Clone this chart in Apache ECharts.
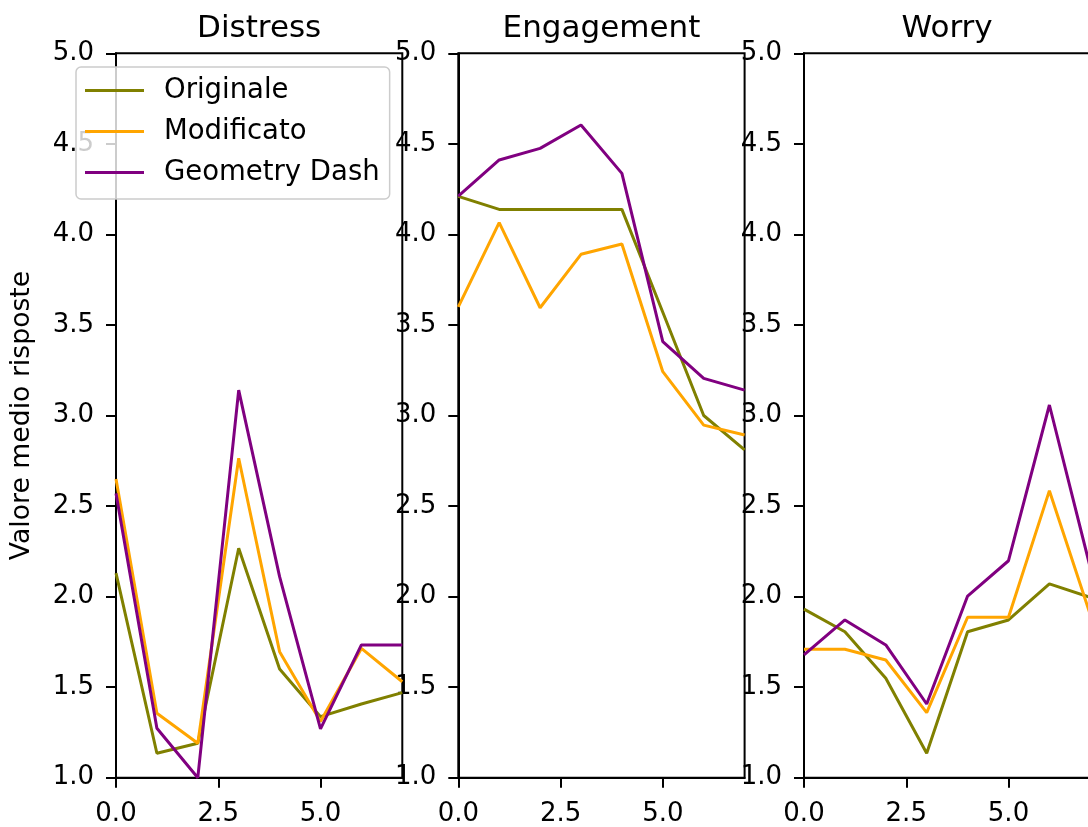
<!DOCTYPE html>
<html>
<head>
<meta charset="utf-8">
<script src="https://cdn.jsdelivr.net/npm/echarts@6/dist/echarts.min.js"></script>
<style>
html,body{margin:0;padding:0;background:#fff;}
#chart{width:1088px;height:827px;}
</style>
</head>
<body>
<div id="chart"></div>
<script>
// ---- data ----
const xValues = [0, 1, 2, 3, 4, 5, 6, 7];
const panelTitles = ['Distress', 'Engagement', 'Worry'];
const seriesNames = ['Originale', 'Modificato', 'Geometry Dash'];
const seriesColors = ['#808000', '#FFA500', '#800080'];
const xTickValues = [0, 2.5, 5];

const distressOriginale   = [2.13, 1.135, 1.19, 2.267, 1.60, 1.337, 1.407, 1.47];
const distressModificato  = [2.65, 1.356, 1.19, 2.764, 1.696, 1.31, 1.714, 1.53];
const distressGeometry    = [2.57, 1.273, 1.0, 3.14, 2.11, 1.27, 1.733, 1.733];

const engagementOriginale  = [4.21, 4.138, 4.138, 4.138, 4.138, 3.57, 3.0, 2.81];
const engagementModificato = [3.60, 4.065, 3.595, 3.89, 3.947, 3.242, 2.947, 2.892];
const engagementGeometry   = [4.212, 4.411, 4.475, 4.604, 4.337, 3.408, 3.205, 3.14];

const worryOriginale  = [1.931, 1.806, 1.549, 1.135, 1.806, 1.871, 2.07, 1.996];
const worryModificato = [1.709, 1.709, 1.65, 1.359, 1.886, 1.886, 2.585, 1.90];
const worryGeometry   = [1.678, 1.871, 1.733, 1.407, 2.003, 2.198, 3.058, 2.16];

const panels = [
  [distressOriginale, distressModificato, distressGeometry],
  [engagementOriginale, engagementModificato, engagementGeometry],
  [worryOriginale, worryModificato, worryGeometry]
];

// ---- layout ----
const FONT = 'DejaVu Sans';
const gridLefts = [116, 458.3, 804];
const gridW = 286.3, gridTop = 53.3, gridH = 724.4;

const chart = echarts.init(document.getElementById('chart'), null, {renderer: 'canvas'});

const grids = [], xAxes = [], yAxes = [], series = [], titles = [];
gridLefts.forEach((l, i) => {
  grids.push({left: l, top: gridTop, width: gridW, height: gridH, show: true,
    borderColor: '#000', borderWidth: 2, backgroundColor: 'transparent',
    containLabel: false, outerBoundsMode: 'none'});
  xAxes.push({
    type: 'value', gridIndex: i, min: 0, max: 7, interval: 2.5,
    axisLine: {show: true, onZero: false, lineStyle: {color: '#000', width: 2}},
    axisTick: {show: true, length: 10, lineStyle: {color: '#000', width: 2}, customValues: xTickValues},
    axisLabel: {show: true, margin: 24, color: '#000', fontFamily: FONT, fontSize: 26,
      customValues: xTickValues, formatter: v => v.toFixed(1)},
    splitLine: {show: false}
  });
  yAxes.push({
    type: 'value', gridIndex: i, min: 1, max: 5, interval: 0.5,
    name: i === 0 ? 'Valore medio risposte' : '',
    nameLocation: 'middle', nameGap: 80, nameRotate: 90,
    nameTextStyle: {color: '#000', fontFamily: FONT, fontSize: 26.7},
    axisLine: {show: true, onZero: false, lineStyle: {color: '#000', width: 2}},
    axisTick: {show: true, length: 10, lineStyle: {color: '#000', width: 2}},
    axisLabel: {show: true, margin: 22, color: '#000', fontFamily: FONT, fontSize: 26,
      formatter: v => v.toFixed(1)},
    splitLine: {show: false}
  });
  titles.push({
    text: panelTitles[i], left: l + gridW / 2 - 5, top: 8, textAlign: 'center',
    textStyle: {color: '#000', fontFamily: FONT, fontSize: 31, fontWeight: 'normal'}
  });
  panels[i].forEach((vals, k) => {
    series.push({
      name: seriesNames[k], type: 'line', xAxisIndex: i, yAxisIndex: i,
      data: xValues.map((x, j) => [x, vals[j]]),
      showSymbol: false, symbol: 'none', clip: true,
      lineStyle: {color: seriesColors[k], width: 3},
      itemStyle: {color: seriesColors[k]},
      animation: false, z: 2
    });
  });
});

chart.setOption({
  animation: false,
  backgroundColor: '#fff',
  title: titles,
  grid: grids,
  xAxis: xAxes,
  yAxis: yAxes,
  legend: {
    data: seriesNames, orient: 'vertical', left: 76, top: 67,
    icon: 'rect', itemWidth: 59, itemHeight: 3, itemGap: 10,
    padding: [8, 10, 11, 9],
    backgroundColor: 'rgba(255,255,255,0.8)', borderColor: '#cccccc', borderWidth: 1.5, borderRadius: 5,
    textStyle: {color: '#000', fontFamily: FONT, fontSize: 27.5, lineHeight: 31, padding: [0, 0, 0, 15]},
    z: 10
  },
  series: series
});
</script>
</body>
</html>
